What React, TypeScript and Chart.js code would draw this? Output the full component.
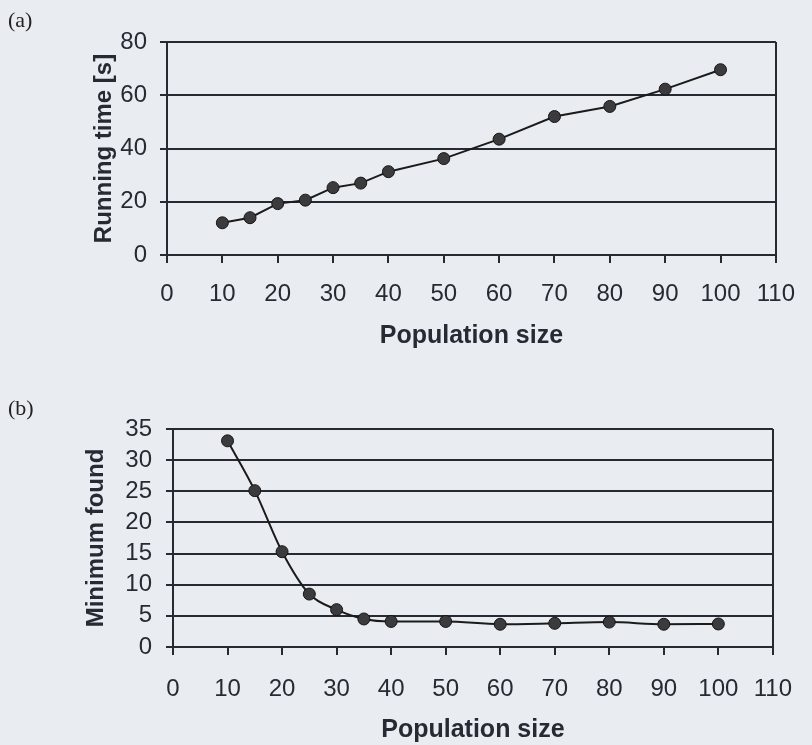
import React, { useEffect, useRef } from "react";
import { Chart, registerables } from "chart.js";

Chart.register(...registerables);

const populationA = [10, 15, 20, 25, 30, 35, 40, 50, 60, 70, 80, 90, 100];
const runningTime = [12.1, 14.0, 19.3, 20.6, 25.3, 27.0, 31.3, 36.2, 43.5, 52.0, 55.8, 62.3, 69.6];

const populationB = [10, 15, 20, 25, 30, 35, 40, 50, 60, 70, 80, 90, 100];
const minimumFound = [33.1, 25.1, 15.3, 8.5, 6.0, 4.5, 4.1, 4.1, 3.65, 3.8, 4.0, 3.65, 3.7];

const xTitle = "Population size";
const yTitleA = "Running time [s]";
const yTitleB = "Minimum found";
const panelA = "(a)";
const panelB = "(b)";

const BG = "#e9edf2";
const INK = "#262a33";
const FONT = "'Liberation Sans', Arial, Helvetica, sans-serif";

type Cfg = {
  xs: number[];
  ys: number[];
  yMax: number;
  yStep: number;
  yTitle: string;
  padTop: number;
  padRight: number;
  yWidth: number;
  xHeight: number;
  xTickPad: number;
  xTitlePadBottom: number;
  yTitlePadTop: number;
  yTickPad: number;
  tension: number;
};

function makeChart(canvas: HTMLCanvasElement, c: Cfg) {
  const data = c.xs.map((x, i) => ({ x, y: c.ys[i] }));
  return new Chart(canvas, {
    type: "line",
    data: {
      datasets: [
        {
          data,
          borderColor: "#1b1b1b",
          borderWidth: 2,
          pointRadius: 6,
          pointBackgroundColor: "#3b3b3d",
          pointBorderColor: "#151515",
          pointBorderWidth: 1,
          tension: c.tension,
          cubicInterpolationMode: c.tension > 0 ? "monotone" : "default",
          fill: false,
        },
      ],
    },
    options: {
      responsive: false,
      animation: false,
      layout: { padding: { top: c.padTop, right: c.padRight, left: 0, bottom: 0 } },
      plugins: { legend: { display: false }, tooltip: { enabled: false } },
      scales: {
        x: {
          type: "linear",
          min: 0,
          max: 110,
          ticks: {
            stepSize: 10,
            autoSkip: false,
            padding: c.xTickPad,
            color: INK,
            font: { family: FONT, size: 24 },
            maxRotation: 0,
          },
          grid: {
            display: true,
            drawOnChartArea: true,
            color: (ctx: any) => (ctx.tick && ctx.tick.value === 110 ? INK : "rgba(0,0,0,0)"),
            tickColor: INK,
            tickLength: 8,
            lineWidth: 2,
          },
          border: { display: true, color: INK, width: 2 },
          title: {
            display: true,
            text: xTitle,
            color: INK,
            font: { family: FONT, size: 25, weight: "bold" },
            padding: { top: 0, bottom: c.xTitlePadBottom },
          },
          afterFit: (s: any) => {
            s.height = c.xHeight;
          },
        },
        y: {
          min: 0,
          max: c.yMax,
          ticks: {
            stepSize: c.yStep,
            autoSkip: false,
            padding: c.yTickPad,
            color: INK,
            font: { family: FONT, size: 24 },
          },
          grid: {
            display: true,
            color: INK,
            tickColor: INK,
            tickLength: 7,
            lineWidth: 2,
          },
          border: { display: true, color: INK, width: 2 },
          title: {
            display: true,
            text: c.yTitle,
            color: INK,
            font: { family: FONT, size: 24, weight: "bold" },
            padding: { top: c.yTitlePadTop, bottom: 0 },
          },
          afterFit: (s: any) => {
            s.width = c.yWidth;
          },
        },
      },
    },
  } as any);
}

export default function App() {
  const refA = useRef<HTMLCanvasElement>(null);
  const refB = useRef<HTMLCanvasElement>(null);

  useEffect(() => {
    document.body.style.margin = "0";
    document.body.style.background = BG;
    const a = makeChart(refA.current!, {
      xs: populationA,
      ys: runningTime,
      yMax: 80,
      yStep: 20,
      yTitle: yTitleA,
      padTop: 42,
      padRight: 25,
      yWidth: 167,
      xHeight: 115,
      xTickPad: 17,
      xTitlePadBottom: 19,
      yTitlePadTop: 90,
      yTickPad: 13,
      tension: 0,
    });
    const b = makeChart(refB.current!, {
      xs: populationB,
      ys: minimumFound,
      yMax: 35,
      yStep: 5,
      yTitle: yTitleB,
      padTop: 59,
      padRight: 22,
      yWidth: 173,
      xHeight: 98,
      xTickPad: 20,
      xTitlePadBottom: 0,
      yTitlePadTop: 82,
      yTickPad: 14,
      tension: 0.4,
    });
    return () => {
      a.destroy();
      b.destroy();
    };
  }, []);

  const labelStyle: React.CSSProperties = {
    position: "absolute",
    left: 8,
    fontFamily: "'Liberation Serif', 'Times New Roman', serif",
    fontSize: 22,
    color: "#222",
    lineHeight: "26px",
  };

  return (
    <div style={{ position: "relative", width: 812, height: 745, background: BG, overflow: "hidden" }}>
      <canvas ref={refA} width={812} height={370} style={{ position: "absolute", left: 0, top: 0 }} />
      <canvas ref={refB} width={812} height={375} style={{ position: "absolute", left: 0, top: 370 }} />
      <div style={{ ...labelStyle, top: 7 }}>{panelA}</div>
      <div style={{ ...labelStyle, top: 395 }}>{panelB}</div>
    </div>
  );
}
